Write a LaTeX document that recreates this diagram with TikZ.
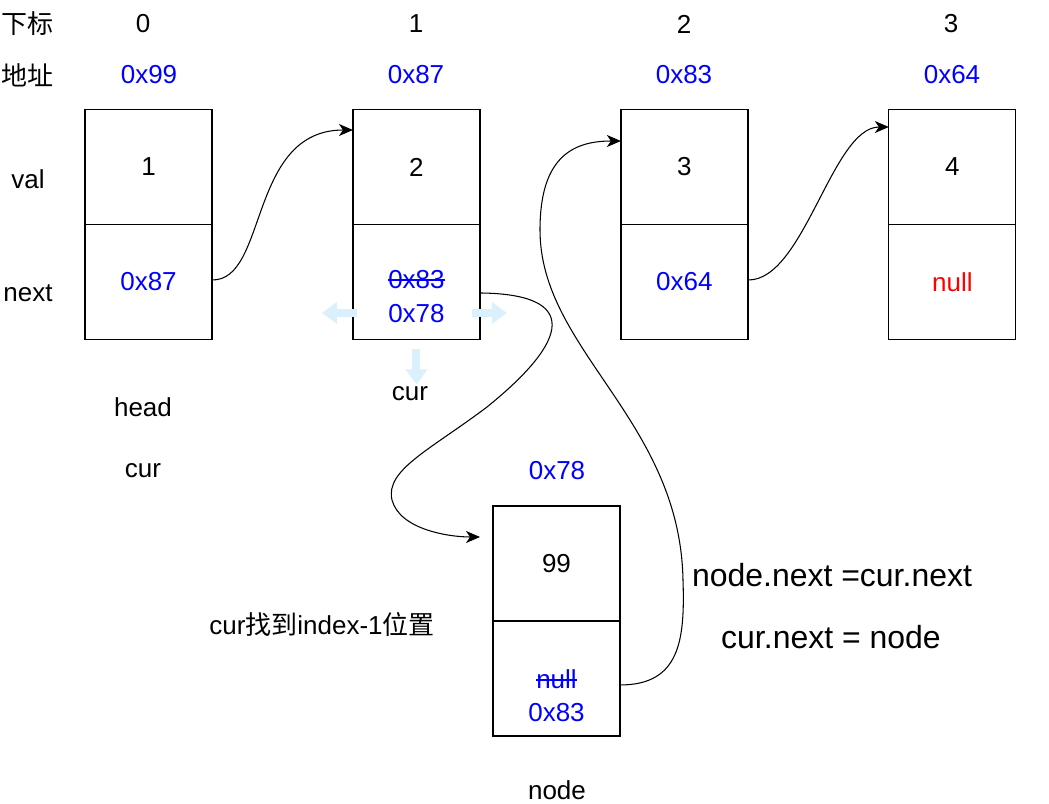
\documentclass[tikz,border=0pt]{standalone}
\usepackage{fontspec}
\setmainfont{Liberation Sans}
\newfontfamily\cjk{Noto Sans CJK SC}
\usetikzlibrary{arrows.meta, positioning}
\definecolor{addrblue}{RGB}{0,0,255}
\definecolor{nullred}{RGB}{255,0,0}
\definecolor{hintblue}{RGB}{218,240,252}
\newcommand{\txtsize}{\fontsize{14.8}{19}\selectfont}
\newcommand{\bigsize}{\fontsize{18.2}{22}\selectfont}
\newlength{\strikewd}
\newcommand{\strike}[1]{\settowidth{\strikewd}{#1}\rlap{\rule[0.3em]{\strikewd}{1.1pt}}#1}

\begin{document}
\begin{tikzpicture}[
    x=0.02cm, y=-0.02cm,
    cell/.style={draw, line width=0.7pt, outer sep=0pt, minimum width=2.54cm, minimum height=2.3cm, inner sep=0pt, font=\txtsize},
    txt/.style={inner sep=0pt, align=center, font=\txtsize},
    addr/.style={txt, text=addrblue},
    arr/.style={-{Stealth[length=0.28cm, width=0.24cm, inset=0.08cm]}, line width=0.6pt},
    hint/.style={draw=hintblue, line width=4.5pt, -{Triangle[length=0.3cm, width=0.42cm]}}
]
\useasboundingbox (0,0) rectangle (1049,804);

% row labels
\node[txt] (idxlbl) at (28,24) {\cjk 下标};
\node[txt] (addrlbl) at (28,75) {\cjk 地址};
\node[txt] (vallbl) at (28,179) {val};
\node[txt] (nextlbl) at (28,293) {next};

% list nodes
\node[cell] (val0) at (148.5,167) {1};
\node[cell, below=0pt of val0, text=addrblue] (nxt0) {0x87};
\node[cell, right=2.82cm of val0] (val1) {2};
\node[cell, below=0pt of val1] (nxt1) {};
\node[cell, right=2.82cm of val1] (val2) {3};
\node[cell, below=0pt of val2, text=addrblue] (nxt2) {0x64};
\node[cell, right=2.82cm of val2] (val3) {4};
\node[cell, below=0pt of val3, text=nullred] (nxt3) {null};
\node[addr] (nxt1txt) at ([yshift=-0.29cm]nxt1.center) {\strike{0x83}\\0x78};

% indices and addresses
\node[txt] (idx0) at (143,24) {0};
\node[txt] (idx1) at (416,24) {1};
\node[txt] (idx2) at (684,24) {2};
\node[txt] (idx3) at (951,24) {3};
\node[addr] (addr0) at (149,75) {0x99};
\node[addr] (addr1) at (416,75) {0x87};
\node[addr] (addr2) at (684,75) {0x83};
\node[addr] (addr3) at (952,75) {0x64};

% new node
\node[cell] (valn) at (556.5,563.5) {99};
\node[cell, below=0pt of valn] (nxtn) {};
\node[addr] (nxtntxt) at ([yshift=-0.35cm]nxtn.center) {\strike{null}\\0x83};
\node[addr] (addrn) at (557,471) {0x78};
\node[txt] (nodelbl) at (557,790) {node};

% pointers
\node[txt] (headlbl) at (143,407) {head};
\node[txt] (cur0) at (143,471) {cur};
\node[txt] (cur1) at (410,394) {cur};
\node[txt] (curnote) at (322,625) {cur{\cjk 找到}index-1{\cjk 位置}};
\node[txt, font=\bigsize] (step1) at (832,575) {node.next =cur.next};
\node[txt, font=\bigsize] (step2) at (831,637) {cur.next = node};

% links
\draw[arr] ([yshift=0.04cm]nxt0.east) .. controls (268,281) and (248,130) .. ([yshift=0.74cm]val1.west);
\draw[arr] ([yshift=0.04cm]nxt2.east) .. controls (804,281) and (832,127) .. ([yshift=0.8cm]val3.west);
\draw[arr] ([yshift=-0.22cm]nxt1.east) .. controls (580,294) and (570,340) .. (487,407)
    .. controls (430,450) and (385,470) .. (392,500)
    .. controls (400,530) and (450,537) .. ([xshift=-0.26cm, yshift=0.53cm]valn.west);
\draw[arr] ([yshift=-0.13cm]nxtn.east) .. controls (680,685) and (685,640) .. (683,580)
    .. controls (680,420) and (540,350) .. (540,230)
    .. controls (540,160) and (570,141) .. ([yshift=0.52cm]val2.west);

% cur moves
\draw[hint] ([xshift=0.08cm, yshift=-0.62cm]nxt1.west) -- ++(-35,0);
\draw[hint] ([xshift=-0.16cm, yshift=-0.62cm]nxt1.east) -- ++(35,0);
\draw[hint] ([yshift=-0.2cm]nxt1.south) -- ++(0,35);
\end{tikzpicture}
\end{document}
